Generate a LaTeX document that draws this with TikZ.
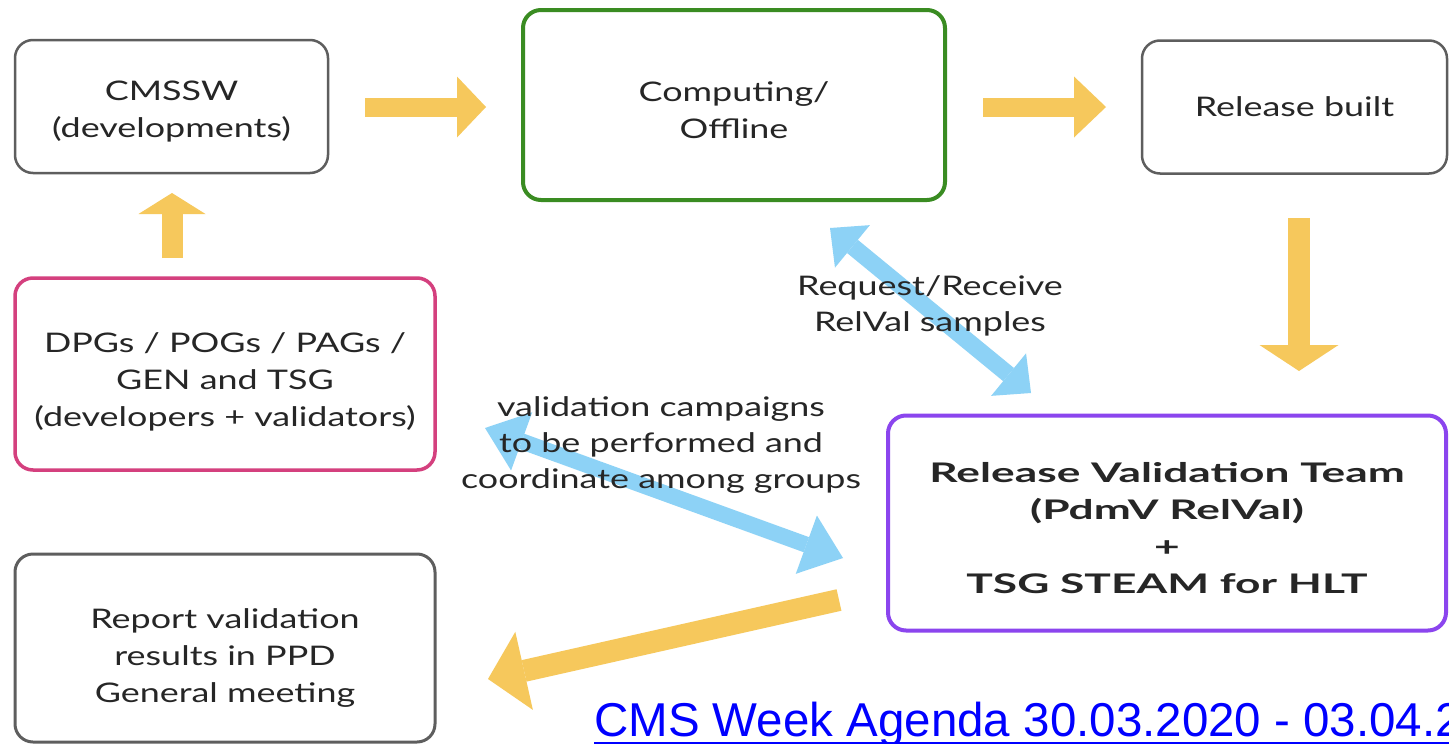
\documentclass[tikz,border=0pt]{standalone}
\usepackage{fontspec}
\setmainfont{Lato}[FakeStretch=1.33]
\newfontfamily\teamfont{Lato}[FakeStretch=1.64]
\newfontfamily\linkfont{Liberation Sans}
\usetikzlibrary{arrows.meta}

\definecolor{boxgray}{HTML}{5E5E5E}
\definecolor{compgreen}{HTML}{3A8C22}
\definecolor{grppink}{HTML}{D4407E}
\definecolor{rvtpurple}{HTML}{8B45EE}
\definecolor{flowyellow}{HTML}{F6C85C}
\definecolor{skyarrow}{HTML}{8DD2F6}
\definecolor{textdark}{HTML}{262626}
\definecolor{hyperblue}{HTML}{0000FF}

% a taller first line lowers the text block inside its box
\newcommand\firstline[1]{\rule{0pt}{#1}}

\tikzset{
  box/.style={draw, rounded corners=18pt, fill=white, text=textdark,
    align=center, inner sep=0pt, font=\fontsize{27}{37}\selectfont},
  label/.style={text=textdark, align=center, inner sep=0pt,
    font=\fontsize{27}{36}\selectfont},
  flowarrow/.style n args={3}{draw=flowyellow, line width=#1,
    -{Triangle[length=#2, width=#3, line width=0pt, fill=flowyellow]}},
  swaparrow/.style n args={3}{draw=skyarrow, line width=#1,
    {Triangle[length=#2, width=#3, line width=0pt, fill=skyarrow]}-{Triangle[length=#2, width=#3, line width=0pt, fill=skyarrow]}},
}

\begin{document}
\begin{tikzpicture}[x=1pt, y=-1pt]
\useasboundingbox (0,0) rectangle (1449,744);
\clip (0,0) rectangle (1449,744);
\fill[white] (0,0) rectangle (1449,744);

% process boxes
\node[box, draw=boxgray, line width=2.5pt, minimum width=313pt, minimum height=133pt]
  (cmssw) at (171.5,106.5) {\firstline{29pt}CMSSW\\(developments)};
\node[box, draw=compgreen, line width=4pt, minimum width=422pt, minimum height=190pt]
  (comp) at (734,105) {\firstline{31pt}Computing/\\Offline};
\node[box, draw=boxgray, line width=2.5pt, minimum width=305pt, minimum height=133pt]
  (rel) at (1294.5,107) {Release built};
\node[box, draw=grppink, line width=3.5pt, minimum width=420pt, minimum height=192pt]
  (grp) at (225,374) {\firstline{36pt}DPGs / POGs / PAGs /\\GEN and TSG\\(developers + validators)};
\node[box, draw=rvtpurple, line width=4pt, minimum width=558pt, minimum height=215pt,
  font=\teamfont\bfseries\fontsize{27}{37}\selectfont]
  (rvt) at (1167,523) {\firstline{30pt}Release Validation Team\\(PdmV RelVal)\\+\\TSG STEAM for HLT};
\node[box, draw=boxgray, line width=3pt, minimum width=420pt, minimum height=188pt]
  (rep) at (225,648) {\firstline{40pt}Report validation\\results in PPD\\General meeting};

% end points of the block arrows
\coordinate (a1s) at (365,107);  \coordinate (a1e) at (486,107);
\coordinate (a2s) at (983,107);  \coordinate (a2e) at (1106,107);
\coordinate (a3s) at (172,258);  \coordinate (a3e) at (172,193);
\coordinate (a4s) at (1299,218); \coordinate (a4e) at (1299,371);
\coordinate (a5s) at (839,600);  \coordinate (a5e) at (488,679);
\coordinate (b1s) at (830,228);  \coordinate (b1e) at (1031,393);
\coordinate (b2s) at (485,428);  \coordinate (b2e) at (843,558);

% workflow arrows
\draw[flowarrow={19pt}{29pt}{61pt}] (a1s) -- (a1e);
\draw[flowarrow={19pt}{32pt}{61pt}] (a2s) -- (a2e);
\draw[flowarrow={21pt}{21pt}{67pt}] (a3s) -- (a3e);
\draw[flowarrow={22pt}{26pt}{79pt}] (a4s) -- (a4e);
\draw[flowarrow={22pt}{37pt}{80pt}] (a5s) -- (a5e);

% two-way exchanges
\draw[swaparrow={17pt}{29pt}{55pt}] (b1s) -- (b1e);
\draw[swaparrow={16pt}{39pt}{62pt}] (b2s) -- (b2e);

% exchange labels
\node[label] (reqlbl) at (930,306) {Request/Receive\\RelVal samples};
\node[label] (vallbl) at (661,445) {validation campaigns\\to be performed and\\coordinate among groups};

% agenda link
\node[anchor=base west, inner sep=0pt, text=hyperblue,
  font=\linkfont\fontsize{47.5}{50}\selectfont] (agenda) at (594,736)
  {CMS Week Agenda 30.03.2020 - 03.04.2020};
\draw[hyperblue, line width=2pt] ([yshift=-7pt]agenda.base west) -- ([yshift=-7pt]agenda.base east);
\end{tikzpicture}
\end{document}
